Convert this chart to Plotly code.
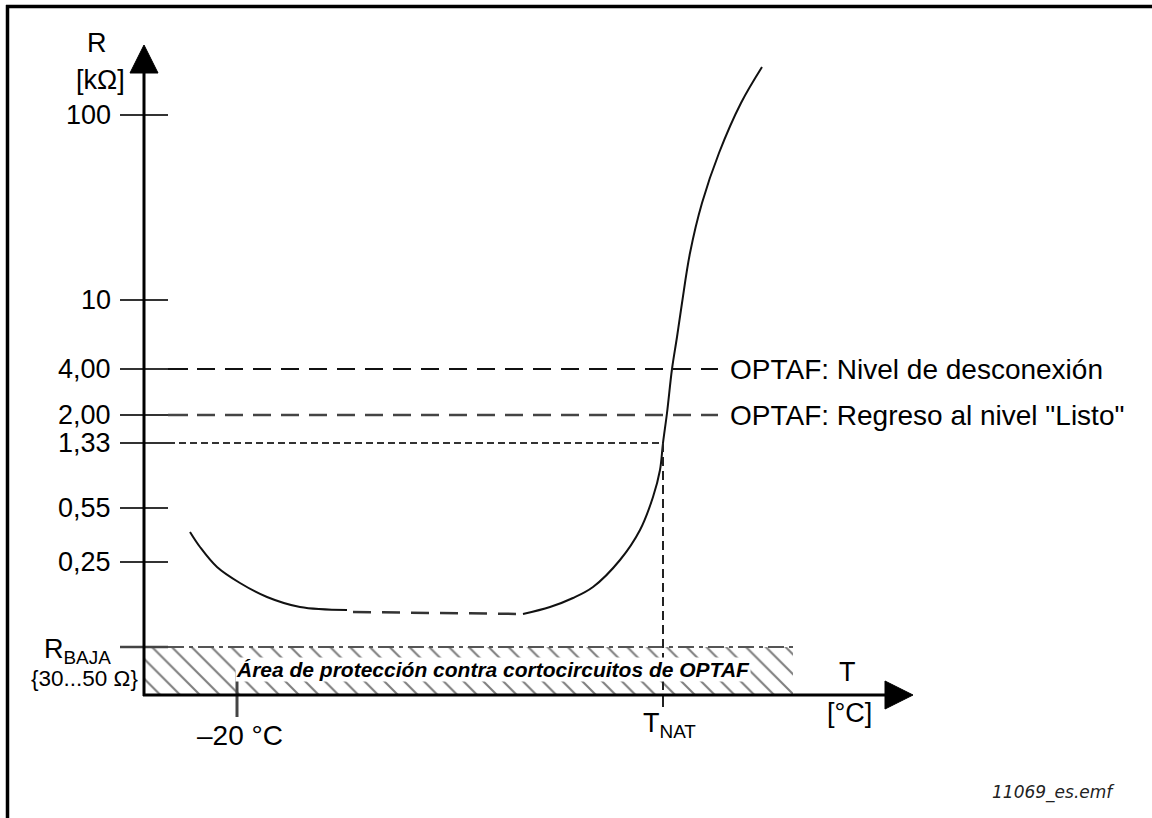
import plotly.graph_objects as go

# ---------------- data (schematic units: T measured to the right of the R axis,
# R level measured above the T axis) ----------------
R_TICK_LABELS = ["100", "10", "4,00", "2,00", "1,33", "0,55", "0,25"]
R_TICK_LEVELS = [580, 395, 326, 280, 252, 187, 133]
R_LOW_LEVEL = 48
R_LOW_LABEL = "R<sub>BAJA</sub>"
R_LOW_RANGE = "{30...50 Ω}"

T_COLD_LABEL = "–20 °C"
T_COLD_VALUE = 93
T_NAT_LABEL = "T<sub>NAT</sub>"
T_NAT_VALUE = 519

TRIP_LEVEL = 326    # 4,00 kOhm
READY_LEVEL = 280   # 2,00 kOhm
TNAT_LEVEL = 252    # 1,33 kOhm
TRIP_TEXT = "OPTAF: Nivel de desconexión"
READY_TEXT = 'OPTAF: Regreso al nivel "Listo"'
AREA_TEXT = "Área de protección contra cortocircuitos de OPTAF"
AREA_T_END = 649
FILE_TAG = "11069_es.emf"

CURVE_COLD_T = [46, 56, 73, 96, 123, 156, 203]
CURVE_COLD_R = [163, 148, 128, 112, 98, 88, 85]
CURVE_MID_T = [209, 276, 379]
CURVE_MID_R = [83, 82, 81]
CURVE_HOT_T = [379, 406, 429, 449, 476, 496, 509, 516, 519, 523, 528, 533, 538, 546,
               558, 575, 597, 618]
CURVE_HOT_R = [81, 88, 97, 108, 135, 165, 198, 225, 252, 282, 326, 358, 392, 442,
               492, 542, 592, 628]

# ---------------- figure ----------------
W, H = 1152, 818
X_RANGE = [-144, 1008]
Y_RANGE = [-123, 695]
FONT = "Liberation Sans, Arial, sans-serif"

fig = go.Figure()

# hatched short-circuit protection area
fig.add_trace(go.Scatter(
    x=[0, AREA_T_END, AREA_T_END, 0, 0],
    y=[0, 0, R_LOW_LEVEL, R_LOW_LEVEL, 0],
    mode="lines", line=dict(width=0), fill="toself", fillcolor="white",
    fillpattern=dict(shape="\\", size=14, solidity=0.15, fgcolor="#000000", bgcolor="white"),
    hoverinfo="skip", showlegend=False,
))

# resistance curve
curve_line = dict(color="#111111", width=2)
fig.add_trace(go.Scatter(x=CURVE_COLD_T, y=CURVE_COLD_R, mode="lines", line_shape="spline",
                         line=curve_line, hoverinfo="skip", showlegend=False))
fig.add_trace(go.Scatter(x=CURVE_MID_T, y=CURVE_MID_R, mode="lines",
                         line=dict(color="#333333", width=2.5, dash="18px,11px"),
                         hoverinfo="skip", showlegend=False))
fig.add_trace(go.Scatter(x=CURVE_HOT_T, y=CURVE_HOT_R, mode="lines", line_shape="spline",
                         line=curve_line, hoverinfo="skip", showlegend=False))

shapes = []


def line(x0, y0, x1, y1, color="#000", width=2, dash=None, ref="data"):
    d = dict(type="line", x0=x0, y0=y0, x1=x1, y1=y1, layer="above",
             line=dict(color=color, width=width, dash=dash or "solid"))
    if ref == "paper":
        d.update(xref="paper", yref="paper")
    else:
        d.update(xref="x", yref="y")
    shapes.append(d)


# outer frame (top and left edges)
line(6 / W, 1 - 6.5 / H, 1, 1 - 6.5 / H, width=3.5, ref="paper")
line(7.5 / W, 1 - 5 / H, 7.5 / W, 0, width=3.5, ref="paper")

# R tick marks
for lvl in R_TICK_LEVELS:
    line(-24, lvl, 24, lvl, color="#333333", width=2)
# reference levels
line(24, TRIP_LEVEL, 44, TRIP_LEVEL, color="#111111", width=2)
line(53, TRIP_LEVEL, 574, TRIP_LEVEL, color="#111111", width=2, dash="18px,10px")
line(24, READY_LEVEL, 44, READY_LEVEL, color="#444444", width=2.5)
line(53, READY_LEVEL, 574, READY_LEVEL, color="#444444", width=2.5, dash="18px,10px")
line(24, TNAT_LEVEL, T_NAT_VALUE, TNAT_LEVEL, color="#333333", width=2, dash="7px,4px")
# R_BAJA level
line(-24, R_LOW_LEVEL, 24, R_LOW_LEVEL, color="#444444", width=2.5)
line(24, R_LOW_LEVEL, AREA_T_END, R_LOW_LEVEL, color="#555555", width=2, dash="16px,5px,4px,5px")

# T ticks
line(T_COLD_VALUE, 25, T_COLD_VALUE, -22, color="#444444", width=3)
line(T_NAT_VALUE, TNAT_LEVEL, T_NAT_VALUE, 0, color="#222222", width=2, dash="9px,5px")
line(T_NAT_VALUE, 0, T_NAT_VALUE, -12, color="#222222", width=2)

# axes
line(0, -1, 0, 625, width=3)
line(-1, 0, 745, 0, width=3)
shapes.append(dict(type="path", xref="x", yref="y", layer="above",
                   path="M -14,622 L 14,622 L 0,650 Z",
                   fillcolor="black", line=dict(color="black", width=1)))
shapes.append(dict(type="path", xref="x", yref="y", layer="above",
                   path="M 741,14 L 741,-14 L 769,0 Z",
                   fillcolor="black", line=dict(color="black", width=1)))

annotations = []


def text(x, y, s, size=27, xanchor="center", yanchor="middle", family=FONT, color="black", **kw):
    annotations.append(dict(x=x, y=y, xref="x", yref="y", text=s, showarrow=False,
                            xanchor=xanchor, yanchor=yanchor,
                            font=dict(family=family, size=size, color=color), **kw))


for lbl, lvl in zip(R_TICK_LABELS, R_TICK_LEVELS):
    text(-31, lvl, lbl, xanchor="right")

text(-47, 652, "R")
text(-44, 615, "[kΩ]")
text(-31, 44, R_LOW_LABEL, xanchor="right")
text(-4, 17, R_LOW_RANGE, size=22.5, xanchor="right")

text(T_COLD_VALUE + 3, -40, T_COLD_LABEL, size=28)
text(T_NAT_VALUE + 6, -30, T_NAT_LABEL)
text(703, 23, "T")
text(705, -18, "[°C]")

text(584, TRIP_LEVEL, TRIP_TEXT, size=28, xanchor="left")
text(584, READY_LEVEL, READY_TEXT, size=28, xanchor="left")

text(349, 26, "<b><i>" + AREA_TEXT + "</i></b>", size=21, bgcolor="white", borderpad=0)

text(846, -97, "<i>" + FILE_TAG + "</i>", size=17, xanchor="left",
     family="DejaVu Sans, Verdana, sans-serif", color="#222222")

fig.update_layout(
    width=W, height=H, margin=dict(l=0, r=0, t=0, b=0),
    paper_bgcolor="white", plot_bgcolor="white",
    xaxis=dict(range=X_RANGE, visible=False, fixedrange=True),
    yaxis=dict(range=Y_RANGE, visible=False, fixedrange=True),
    shapes=shapes, annotations=annotations, showlegend=False,
)

fig.write_html("out.html", config={"displayModeBar": False},
               post_script="document.body.style.margin='0px';document.body.style.overflow='hidden';")
